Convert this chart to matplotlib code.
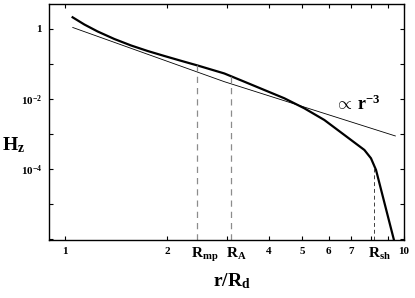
import numpy as np
import matplotlib
matplotlib.use("Agg")
import matplotlib.pyplot as plt
import matplotlib.transforms as mtransforms

plt.rcParams['font.family'] = ['Liberation Serif', 'DejaVu Serif']
plt.rcParams['font.weight'] = 'bold'
plt.rcParams['mathtext.fontset'] = 'custom'
plt.rcParams['mathtext.rm'] = 'Liberation Serif:bold'
plt.rcParams['mathtext.it'] = 'Liberation Serif:bold'
plt.rcParams['mathtext.bf'] = 'Liberation Serif:bold'

# Thick curve H_z(r) (log10 values)
r_curve = [1.053, 1.140, 1.248, 1.398, 1.566, 1.753, 1.963, 2.199, 2.461, 2.951,
           3.380, 3.872, 4.436, 5.08, 5.82, 6.67, 7.64, 7.99, 8.27, 9.47, 9.7]
logH_curve = [0.334, 0.129, -0.071, -0.286, -0.471, -0.629, -0.771, -0.909, -1.043, -1.271,
              -1.506, -1.743, -1.980, -2.266, -2.600, -3.029, -3.457, -3.694, -4.029, -6.257, -6.8]
# Thin reference line (proportional to r^-3)
r_ref = [1.054, 2.951, 9.43]
logH_ref = [0.043, -1.506, -3.057]
# Characteristic radii
r_marks = [2.45, 3.09, 8.14]
mark_labels = [r'$\mathbf{R}_{\mathbf{mp}}$', r'$\mathbf{R}_{\mathbf{A}}$', r'$\mathbf{R}_{\mathbf{sh}}$']
mark_colors = ['#8c8c8c', '#8c8c8c', '#404040']
x_ticks = [1, 2, 3, 4, 5, 6, 7, 8, 9, 10]
x_ticklabels = ['1', '2', '', '4', '5', '6', '7', '', '', '10']
y_ticks = [1e0, 1e-1, 1e-2, 1e-3, 1e-4, 1e-5, 1e-6]
y_ticklabels = ['1', '', r'$10^{-2}$', '', r'$10^{-4}$', '', '']

W, H = 415, 298
fig = plt.figure(figsize=(W/100, H/100), dpi=100)
ax = fig.add_axes([49/W, 1-240/H, (404-49)/W, (240-4)/H])

ax.set_xscale('log')
ax.set_yscale('log')
ymin = 10**-6.03
ax.set_xlim(0.897, 10)
ax.set_ylim(ymin, 10**0.714)

ax.plot(r_curve, 10**np.array(logH_curve), color='black', lw=1.6, solid_joinstyle='round')
ax.plot(r_ref, 10**np.array(logH_ref), color='black', lw=0.6)

trans = mtransforms.blended_transform_factory(ax.transData, ax.transAxes)
for i, (rm, lab, c) in enumerate(zip(r_marks, mark_labels, mark_colors)):
    top = 10**np.interp(np.log10(rm), np.log10(r_curve), logH_curve)
    if i < 2:
        ax.plot([rm, rm], [ymin, top], color=c, lw=0.9, dashes=(5, 4))
    else:
        ax.plot([rm, rm], [ymin, top], color=c, lw=0.7, dashes=(4, 3))
    ax.annotate(lab, xy=(rm, 0), xycoords=trans, xytext=(-4, -4), textcoords='offset points',
                ha='left', va='top', fontsize=11)

ax.set_xticks(x_ticks)
ax.set_xticklabels(x_ticklabels)
ax.set_yticks(y_ticks)
ax.set_yticklabels(y_ticklabels)
ax.minorticks_off()
ax.tick_params(axis='both', which='major', direction='in', length=3, width=0.8,
               top=True, right=True, labelsize=8, pad=5)
for s in ax.spines.values():
    s.set_linewidth(1.0)

fig.text(232/W, 1-286/H, r'$\mathbf{r/R}_{\mathbf{d}}$', ha='center', va='baseline', fontsize=14)
fig.text(2/W, 1-150/H, r'$\mathbf{H}_{\mathbf{z}}$', ha='left', va='baseline', fontsize=14)
fig.text(335/W, 1-110/H, r'$\propto\,\mathbf{r}^{\mathbf{-3}}$', ha='left', va='baseline', fontsize=13)

fig.savefig('out.png', dpi=100)
